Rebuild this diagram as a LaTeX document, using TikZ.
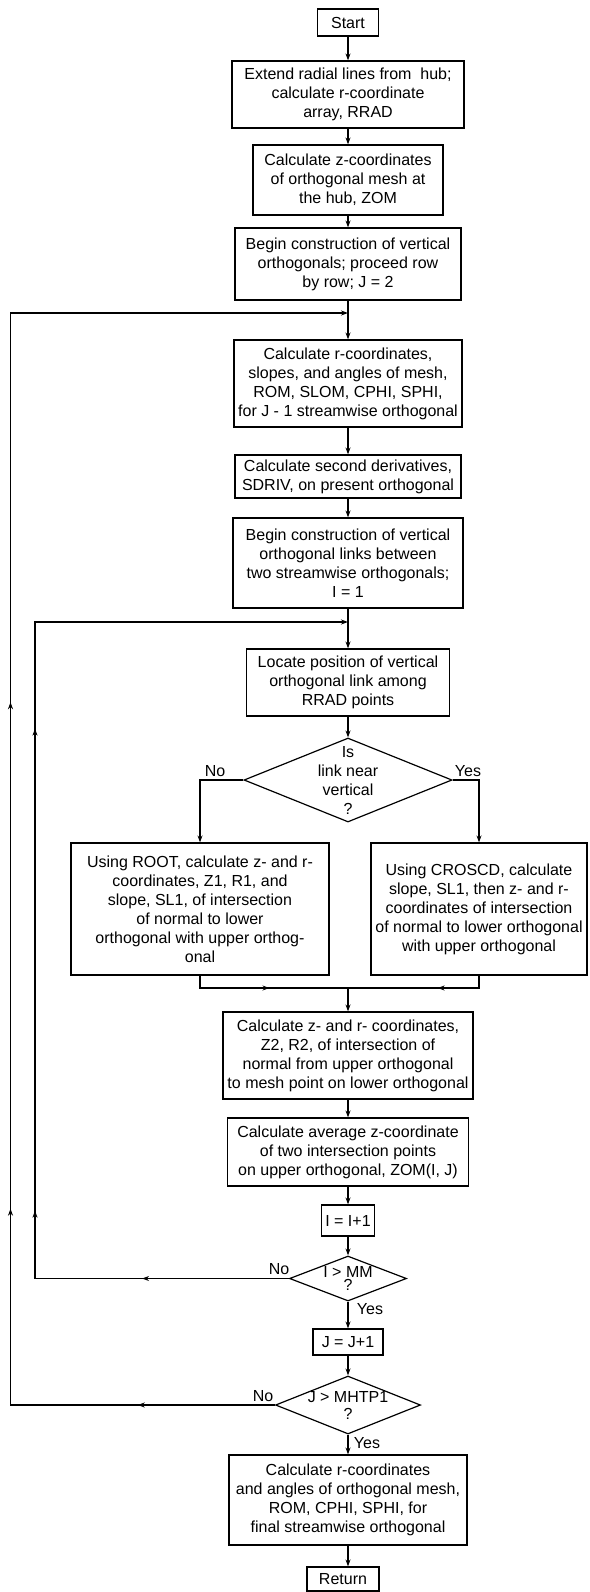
\documentclass[tikz,border=0pt]{standalone}
\usepackage{fontspec}
\setmainfont{Liberation Sans}
\usetikzlibrary{shapes.geometric,arrows.meta,decorations.markings}
\begin{document}
\begin{tikzpicture}[x=1pt,y=-1pt,
  box/.style={draw,line width=1.2pt,inner sep=0pt,align=center,font=\fontsize{16}{19}\selectfont},
  dia/.style={draw,diamond,line width=1.2pt,inner sep=0pt},
  lbl/.style={font=\fontsize{16}{19}\selectfont,inner sep=0pt},
  line/.style={line width=1.2pt},
  arr/.style={line,-{Stealth[length=7pt,width=5pt]}},
  mk/.style={postaction={decorate,decoration={markings,mark=at position #1 with {\arrow{Stealth[length=7pt,width=5pt]}}}}}
]
\fill[white] (0,0) rectangle (589,1592);
\useasboundingbox (0,0) rectangle (589,1592);

\node[box,minimum width=61pt,minimum height=27pt] (start) at (348,22.5) {Start};
\node[box,minimum width=232pt,minimum height=67pt] (extend) at (348,94.5) {Extend radial lines from\ \ hub;\\calculate r-coordinate\\array, RRAD};
\node[box,minimum width=190pt,minimum height=70pt] (calcz) at (348,180) {Calculate z-coordinates\\of orthogonal mesh at\\the hub, ZOM};
\node[box,minimum width=226pt,minimum height=72pt] (begin) at (348,264) {Begin construction of vertical\\orthogonals; proceed row\\by row; J = 2};
\coordinate (j1) at (348,313);
\node[box,minimum width=228pt,minimum height=87pt] (calcr) at (348,383.5) {Calculate r-coordinates,\\slopes, and angles of mesh,\\ROM, SLOM, CPHI, SPHI,\\for J - 1 streamwise orthogonal};
\node[box,minimum width=226pt,minimum height=43pt] (sderiv) at (348,476.5) {Calculate second derivatives,\\SDRIV, on present orthogonal};
\node[box,minimum width=230pt,minimum height=90pt] (beginl) at (348,563) {Begin construction of vertical\\orthogonal links between\\two streamwise orthogonals;\\I = 1};
\coordinate (j2) at (348,622);
\node[box,minimum width=203pt,minimum height=67pt] (locate) at (348,682.5) {Locate position of vertical\\orthogonal link among\\RRAD points};

\node[dia,minimum width=208pt,minimum height=84pt] (d1) at (348,780) {};
\node[lbl,align=center] (d1t) at (d1.center) {Is\\link near\\vertical\\?};
\node[lbl] (d1no) at (215,771) {No};
\node[lbl] (d1yes) at (468,771) {Yes};
\coordinate (bl) at (200,780);
\coordinate (br) at (479,780);

\node[box,minimum width=258pt,minimum height=132pt] (lbox) at (200,909) {Using ROOT, calculate z- and r-\\coordinates, Z1, R1, and\\slope, SL1, of intersection\\of normal to lower\\orthogonal with upper orthog-\\onal};
\node[box,minimum width=216pt,minimum height=132pt] (rbox) at (479,909) {Using CROSCD, calculate\\slope, SL1, then z- and r-\\coordinates of intersection\\of normal to lower orthogonal\\with upper orthogonal};
\coordinate (ml) at (200,988);
\coordinate (mr) at (479,988);
\coordinate (j3) at (348,988);

\node[box,minimum width=250pt,minimum height=87pt] (calczr) at (348,1055.5) {Calculate z- and r- coordinates,\\Z2, R2, of intersection of\\normal from upper orthogonal\\to mesh point on lower orthogonal};
\node[box,minimum width=241pt,minimum height=68pt] (avg) at (348,1152) {Calculate average z-coordinate\\of two intersection points\\on upper orthogonal, ZOM(I, J)};
\node[box,minimum width=53pt,minimum height=31pt] (incI) at (348,1220.5) {I = I+1};
\node[dia,minimum width=117pt,minimum height=45pt] (d2) at (348,1278.5) {};
\node[lbl,align=center,font=\fontsize{16}{13}\selectfont] (d2t) at (d2.center) {I > MM\\?};
\node[lbl] (d2no) at (279,1269) {No};
\node[lbl] (d2yes) at (370,1309) {Yes};
\node[box,minimum width=70pt,minimum height=26pt] (incJ) at (348,1342) {J = J+1};
\node[dia,minimum width=145pt,minimum height=58pt] (d3) at (348,1405) {};
\node[lbl,align=center,font=\fontsize{16}{17}\selectfont] (d3t) at (d3.center) {J > MHTP1\\?};
\node[lbl] (d3no) at (263,1396) {No};
\node[lbl] (d3yes) at (367,1443) {Yes};
\node[box,minimum width=238pt,minimum height=90pt] (final) at (348,1500) {Calculate r-coordinates\\and angles of orthogonal mesh,\\ROM, CPHI, SPHI, for\\final streamwise orthogonal};
\node[box,minimum width=72pt,minimum height=24pt] (ret) at (343,1579) {Return};

\coordinate (o1) at (10.5,1405);
\coordinate (o2) at (10.5,313);
\coordinate (i1) at (35,1278.5);
\coordinate (i2) at (35,622);

% main flow
\draw[arr] (start) -- (extend);
\draw[arr] (extend) -- (calcz);
\draw[arr] (calcz) -- (begin);
\draw[line] (begin) -- (j1);
\draw[arr] (j1) -- (calcr);
\draw[arr] (calcr) -- (sderiv);
\draw[arr] (sderiv) -- (beginl);
\draw[line] (beginl) -- (j2);
\draw[arr] (j2) -- (locate);
\draw[arr] (locate) -- (d1);
\draw[arr] (d1.west) -- (bl) -- (lbox.north);
\draw[arr] (d1.east) -- (br) -- (rbox.north);
\draw[line,mk=0.51] (lbox.south) -- (ml) -- (j3);
\draw[line,mk=0.375] (rbox.south) -- (mr) -- (j3);
\draw[arr] (j3) -- (calczr);
\draw[arr] (calczr) -- (avg);
\draw[arr] (avg) -- (incI);
\draw[arr] (incI) -- (d2);
\draw[arr] (d2) -- (incJ);
\draw[arr] (incJ) -- (d3);
\draw[arr] (d3) -- (final);
\draw[arr] (final.south) -- (final.south |- ret.north);

% loops
\draw[arr,mk=0.081,mk=0.272,mk=0.571] (d3.west) -- (o1) -- (o2) -- (j1);
\draw[arr,mk=0.120,mk=0.263,mk=0.657] (d2.west) -- (i1) -- (i2) -- (j2);
\end{tikzpicture}
\end{document}
